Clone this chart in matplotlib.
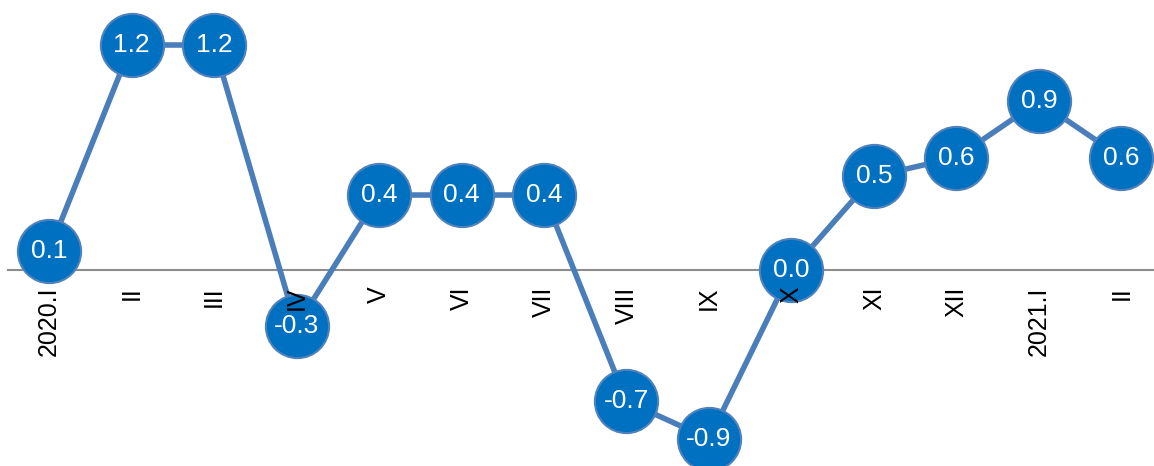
import matplotlib.pyplot as plt

# monthly values, 2020.I .. 2021.II
labels = ['2020.I', 'II', 'III', 'IV', 'V', 'VI', 'VII', 'VIII', 'IX', 'X',
          'XI', 'XII', '2021.I', 'II']
values = [0.1, 1.2, 1.2, -0.3, 0.4, 0.4, 0.4, -0.7, -0.9, 0.0,
          0.5, 0.6, 0.9, 0.6]

plt.rcParams['font.family'] = ['Liberation Sans', 'DejaVu Sans']

fig = plt.figure(figsize=(11.54, 4.66), dpi=100)
ax = fig.add_axes([0, 0, 1, 1])
ax.axis('off')

x = list(range(len(values)))

ax.plot([-0.5, len(values)], [0, 0], color='#8c8c8c', lw=1.5, zorder=1)

ax.plot(x, values, color='#4a7ebb', lw=4, zorder=3, solid_capstyle='round')
ax.plot(x, values, ls='none', marker='o', ms=45.5, mfc='#0070c0',
        mec='#4f81bd', mew=1.5, zorder=4)

for i, v in enumerate(values):
    ax.text(i, v, '%.1f' % v, ha='center', va='center', fontsize=19,
            color='white', zorder=5)

# category labels just under the zero line (drawn on top of the markers)
for i, lab in enumerate(labels):
    ax.annotate(lab, xy=(i, 0), xytext=(0, -12), textcoords='offset points',
                rotation=90, ha='center', va='top', fontsize=18, color='black',
                zorder=6)

ax.set_xlim(-0.594, 13.394)
ax.set_ylim(-1.045, 1.44)

fig.savefig('out.png', dpi=100)
